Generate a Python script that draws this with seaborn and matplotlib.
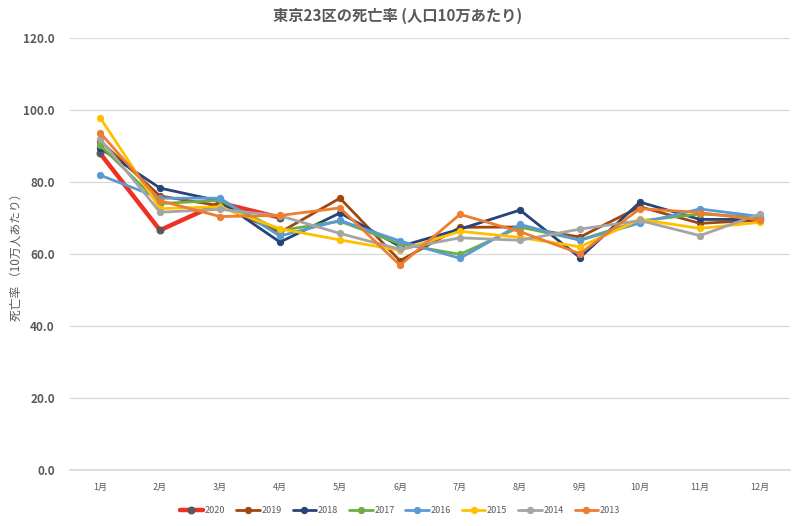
import seaborn as sns
import pandas as pd
from matplotlib import pyplot as plt

months = ['1月', '2月', '3月', '4月', '5月', '6月', '7月', '8月', '9月', '10月', '11月', '12月']
years = ['2020', '2019', '2018', '2017', '2016', '2015', '2014', '2013']

r2020 = [88.0, 66.6, 74.2, 70.1]
r2019 = [91.4, 76.1, 73.4, 66.0, 75.5, 58.1, 67.4, 67.5, 64.7, 73.1, 68.5, 69.4]
r2018 = [89.4, 78.3, 74.7, 63.3, 71.4, 62.1, 66.9, 72.2, 59.0, 74.4, 69.6, 69.6]
r2017 = [90.2, 74.0, 74.9, 66.5, 69.1, 62.8, 59.9, 67.5, 63.9, 69.2, 71.1, 70.2]
r2016 = [81.9, 75.5, 75.5, 65.0, 69.3, 63.6, 58.8, 68.2, 63.8, 68.6, 72.5, 70.4]
r2015 = [97.9, 72.6, 73.1, 67.0, 63.9, 61.0, 66.3, 64.6, 62.0, 69.6, 67.1, 68.8]
r2014 = [92.0, 71.6, 72.4, 70.6, 65.7, 61.3, 64.5, 63.8, 66.9, 69.3, 65.1, 71.1]
r2013 = [93.7, 74.8, 70.4, 70.7, 72.8, 56.9, 71.0, 66.2, 60.1, 72.6, 71.5, 69.4]

series = [r2020, r2019, r2018, r2017, r2016, r2015, r2014, r2013]
colors = ['#EE3124', '#9E480E', '#264478', '#70AD47', '#5B9BD5', '#FFC000', '#A5A5A5', '#ED7D31']

rows = []
for y, vals in zip(years, series):
    for i, v in enumerate(vals):
        rows.append(dict(year=y, month=i, rate=v))
df = pd.DataFrame(rows)

sns.set_theme(style="white")
plt.rcParams['font.family'] = ['Noto Sans CJK JP', 'DejaVu Sans']

fig = plt.figure(figsize=(8, 5.26), dpi=100)
ax = fig.add_axes([0.0875, 0.1065, 0.9, 0.8213])

for y, c in zip(years, colors):
    d = df[df.year == y]
    if y == '2020':
        sns.lineplot(data=d, x='month', y='rate', ax=ax, color=c, linewidth=3.2,
                     marker='o', markersize=5, markerfacecolor='#595959',
                     markeredgecolor='#595959', label=y, zorder=2)
    else:
        sns.lineplot(data=d, x='month', y='rate', ax=ax, color=c, linewidth=2.0,
                     marker='o', markersize=4.5, markeredgecolor=c, label=y, zorder=3)

ax.set_xlim(-0.5, 11.5)
ax.set_ylim(0, 120)
ax.set_xticks(range(12))
ax.set_xticklabels(months, fontsize=6.5, color='#595959')
ax.set_yticks(range(0, 121, 20))
ax.set_yticklabels([f'{v:.1f}' for v in range(0, 121, 20)], fontsize=8.5,
                   color='#595959', fontweight='bold')
ax.tick_params(axis='x', length=0, pad=9)
ax.tick_params(axis='y', length=0, pad=11)
ax.yaxis.grid(True, color='#D9D9D9', linewidth=0.9)
ax.set_axisbelow(True)
for s in ['top', 'right', 'left']:
    ax.spines[s].set_visible(False)
ax.spines['bottom'].set_color('#D9D9D9')
ax.set_xlabel('')
ax.set_ylabel('死亡率 （10万人あたり）', fontsize=8.5, color='#595959')
ax.yaxis.set_label_coords(-0.066, 0.5)

fig.text(0.497, 0.97, '東京23区の死亡率 (人口10万あたり)', fontsize=11, color='#595959',
         fontweight='bold', ha='center', va='center')

handles, labels = ax.get_legend_handles_labels()
ax.get_legend().remove()
fig.legend(handles, labels, loc='center', bbox_to_anchor=(0.5, 0.03), ncol=8,
           frameon=False, fontsize=6.5, handlelength=2.6, columnspacing=1.2,
           handletextpad=0.2, labelcolor='#595959')

fig.savefig('out.png', dpi=100)
